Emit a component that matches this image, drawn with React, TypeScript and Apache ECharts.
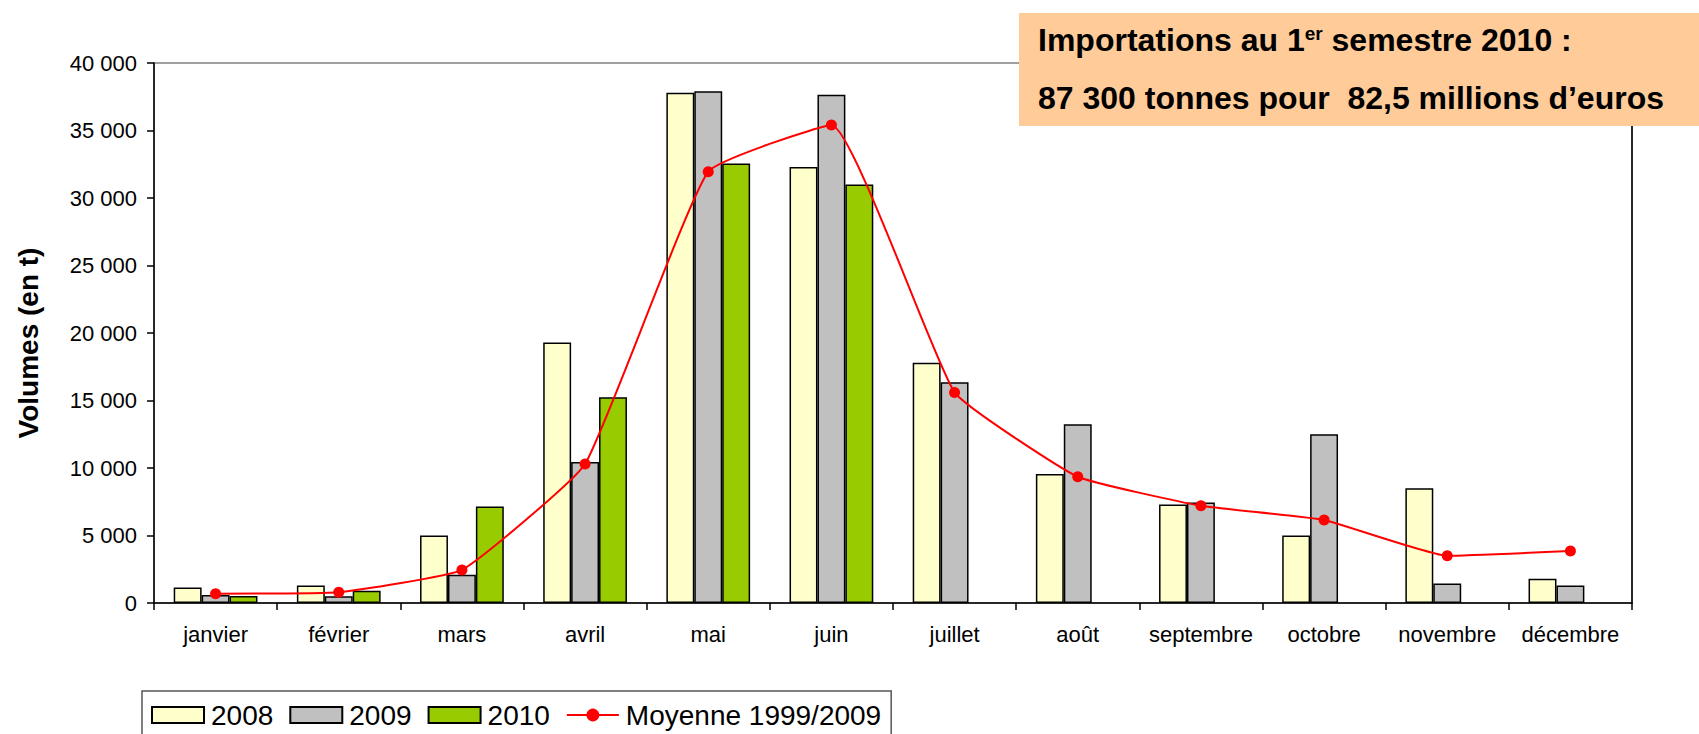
import React, { useEffect, useRef } from "react";
import * as echarts from "echarts";

const months = ["janvier", "février", "mars", "avril", "mai", "juin", "juillet", "août", "septembre", "octobre", "novembre", "décembre"];
const v2008 = [1150, 1300, 5000, 19300, 37800, 32300, 17800, 9550, 7300, 5000, 8500, 1800];
const v2009 = [600, 500, 2100, 10450, 37900, 37650, 16350, 13250, 7450, 12500, 1450, 1300];
const v2010 = [520, 900, 7150, 15250, 32550, 31000, null, null, null, null, null, null];
const moyenne = [690, 800, 2450, 10300, 31950, 35400, 15600, 9350, 7200, 6150, 3500, 3850];

const FONT = "Arial, 'Liberation Sans', sans-serif";

function fmt(v: number) {
  const s = String(v);
  return s.replace(/\B(?=(\d{3})+(?!\d))/g, " ");
}

export default function App() {
  const ref = useRef<HTMLDivElement>(null);
  useEffect(() => {
    document.body.style.margin = "0";
    const chart = echarts.init(ref.current!, null, { renderer: "svg" });
    const barStyle = (c: string) => ({ color: c, borderColor: "#000", borderWidth: 1.5 });
    chart.setOption({
      animation: false,
      backgroundColor: "#fff",
      textStyle: { fontFamily: FONT },
      grid: { left: 154, right: 67, top: 63, bottom: 131, show: true, borderColor: "#808080", borderWidth: 1.5 },
      legend: {
        left: 142,
        top: 691,
        padding: [10, 10, 30, 9],
        itemGap: 16,
        itemWidth: 52,
        itemHeight: 16,
        borderColor: "#555",
        borderWidth: 1.5,
        textStyle: { fontSize: 28, color: "#000", fontFamily: FONT, padding: [0, 0, 0, 2] },
        data: [
          { name: "2008", icon: "rect" },
          { name: "2009", icon: "rect" },
          { name: "2010", icon: "rect" },
          { name: "Moyenne 1999/2009" },
        ],
      },
      xAxis: {
        type: "category",
        data: months,
        axisLine: { lineStyle: { color: "#000", width: 1.5 } },
        axisTick: { show: true, length: 7, lineStyle: { color: "#000", width: 1.5 } },
        axisLabel: { color: "#000", fontSize: 22, margin: 20, fontFamily: FONT, interval: 0 },
      },
      yAxis: [
        {
          type: "value",
          min: 0,
          max: 40000,
          interval: 5000,
          name: "Volumes (en t)",
          nameLocation: "middle",
          nameGap: 112,
          nameTextStyle: { fontSize: 28, fontWeight: "bold", color: "#000", fontFamily: FONT, padding: [0, 20, 0, 0] },
          axisLine: { show: true, lineStyle: { color: "#000", width: 1.5 } },
          axisTick: { show: true, length: 7, lineStyle: { color: "#000", width: 1.5 } },
          axisLabel: { color: "#000", fontSize: 22, margin: 17, fontFamily: FONT, formatter: (v: number) => fmt(v) },
          splitLine: { show: false },
        },
        {
          type: "value",
          position: "right",
          min: 0,
          max: 40000,
          interval: 5000,
          axisLine: { show: true, lineStyle: { color: "#000", width: 1.5 } },
          axisTick: { show: false },
          axisLabel: { show: false },
          splitLine: { show: false },
        },
      ],
      series: [
        { name: "2008", type: "bar", data: v2008, barGap: "0%", barCategoryGap: "32%", itemStyle: barStyle("#FFFFCC") },
        { name: "2009", type: "bar", data: v2009, barGap: "0%", barCategoryGap: "32%", itemStyle: barStyle("#C0C0C0") },
        { name: "2010", type: "bar", data: v2010, barGap: "0%", barCategoryGap: "32%", itemStyle: barStyle("#99CC00") },
        {
          name: "Moyenne 1999/2009",
          type: "line",
          data: moyenne,
          smooth: 0.12,
          symbol: "circle",
          symbolSize: 11,
          lineStyle: { color: "#FF0000", width: 2 },
          itemStyle: { color: "#FF0000" },
          z: 5,
        },
      ],
      graphic: [
        { type: "rect", shape: { x: 1019, y: 13, width: 700, height: 113 }, style: { fill: "#FFCC99" }, z: 10 },
        {
          type: "text",
          x: 1038,
          y: 40,
          z: 11,
          style: {
            text: "{a|Importations au 1}{s|er}{a| semestre 2010 :}",
            verticalAlign: "middle",
            rich: {
              a: { fontSize: 32, fontWeight: "bold", fill: "#000", fontFamily: FONT },
              s: { fontSize: 19, fontWeight: "bold", fill: "#000", fontFamily: FONT, verticalAlign: "top", padding: [0, 0, 12, 0] },
            },
          },
        },
        {
          type: "text",
          x: 1038,
          y: 98,
          z: 11,
          style: {
            text: "87 300 tonnes pour  82,5 millions d\u2019euros",
            verticalAlign: "middle",
            fontSize: 32,
            fontWeight: "bold",
            fill: "#000",
            fontFamily: FONT,
          },
        },
      ],
    });
    return () => chart.dispose();
  }, []);
  return <div ref={ref} style={{ width: 1699, height: 734 }} />;
}
